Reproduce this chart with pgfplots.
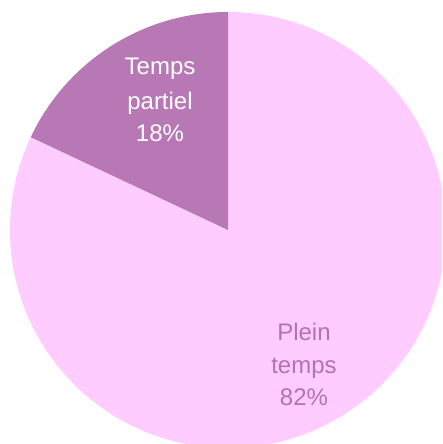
\documentclass[border=0pt]{standalone}
\usepackage{fontspec}
\setmainfont{Liberation Sans}
\usepackage{pgfplots}
\usepackage{pgfplotstable}
\pgfplotsset{compat=1.18}
\definecolor{partiel}{HTML}{B878B6}
\definecolor{plein}{HTML}{FFCCFF}
\definecolor{pleintext}{HTML}{B472B2}
% share of each slice, in percent
\pgfplotstableread{
label value
Partiel 18
Plein 82
}\piedata
\pgfplotstablegetelem{0}{value}\of\piedata \let\vPartiel\pgfplotsretval
\pgfplotstablegetelem{1}{value}\of\piedata \let\vPlein\pgfplotsretval
\begin{document}
\begin{tikzpicture}
\useasboundingbox (-228pt,-214pt) rectangle (214pt,230pt);
\clip (-228pt,-214pt) rectangle (214pt,230pt);
\begin{axis}[
  hide axis, scale only axis, width=436pt, height=436pt,
  xmin=-1, xmax=1, ymin=-1, ymax=1,
  anchor=center, at={(0pt,0pt)}, clip=false]
  \pgfmathsetmacro{\aPartiel}{3.6*\vPartiel}
  \pgfmathsetmacro{\aPlein}{3.6*\vPlein}
  \fill[plein] (axis cs:0,0) -- (axis cs:0,1) arc[start angle=90, delta angle=-\aPlein, radius=218pt] -- cycle;
  \fill[partiel] (axis cs:0,0) -- (axis cs:0,1) arc[start angle=90, delta angle=\aPartiel, radius=218pt] -- cycle;
\end{axis}
\begin{scope}[every node/.style={font=\fontsize{24}{33}\selectfont, inner sep=0pt, anchor=base}]
\node[white] at (-68pt,155pt) {Temps};
\node[white] at (-68pt,120pt) {partiel};
\node[white] at (-68pt,88pt) {18\%};
\node[pleintext] at (76pt,-110pt) {Plein};
\node[pleintext] at (76pt,-143pt) {temps};
\node[pleintext] at (76pt,-175pt) {82\%};
\end{scope}
\end{tikzpicture}
\end{document}
